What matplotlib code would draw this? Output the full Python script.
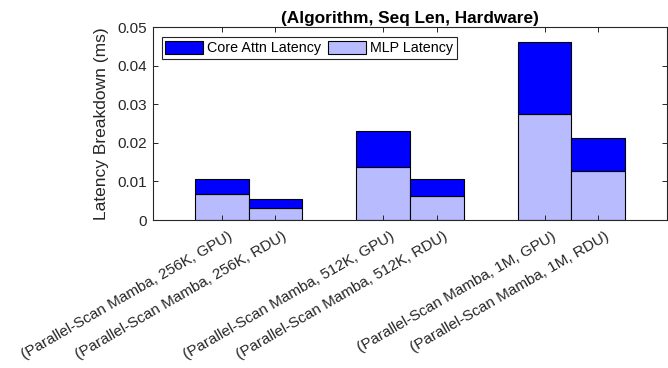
import matplotlib.pyplot as plt
import matplotlib.transforms as mtrans

plt.rcParams['font.family'] = ['Liberation Sans', 'DejaVu Sans']

labels = ['(Parallel-Scan Mamba, 256K, GPU)', '(Parallel-Scan Mamba, 256K, RDU)',
          '(Parallel-Scan Mamba, 512K, GPU)', '(Parallel-Scan Mamba, 512K, RDU)',
          '(Parallel-Scan Mamba, 1M, GPU)', '(Parallel-Scan Mamba, 1M, RDU)']
mlp_latency = [0.0068, 0.0031, 0.0138, 0.0063, 0.0274, 0.0127]
total_latency = [0.0107, 0.0054, 0.0231, 0.0106, 0.0461, 0.0212]
attn_latency = [t - m for t, m in zip(total_latency, mlp_latency)]
yticks = [0, 0.01, 0.02, 0.03, 0.04, 0.05]
ytick_labels = ['0', '0.01', '0.02', '0.03', '0.04', '0.05']

# two bars per sequence length, one empty slot between groups
xpos = [1, 2, 4, 5, 7, 8]

axis_col = '#262626'

fig = plt.figure(figsize=(6.68, 3.68), dpi=100)
ax = fig.add_axes([152.7 / 668, 1 - 220 / 368, 514.6 / 668, 192.7 / 368])

ax.bar(xpos, mlp_latency, width=1.0, color='#b8bcff', edgecolor='black',
       linewidth=0.8, label='MLP Latency')
ax.bar(xpos, attn_latency, bottom=mlp_latency, width=1.0, color='#0000ff',
       edgecolor='black', linewidth=0.8, label='Core Attn Latency')

ax.set_xlim(-0.28, 9.28)
ax.set_ylim(0, 0.05)
ax.set_yticks(yticks)
ax.set_yticklabels(ytick_labels)
ax.set_xticks(xpos)
ax.set_xticklabels(labels, rotation=30, ha='right', va='top', rotation_mode='anchor')
ax.tick_params(labelsize=11, direction='in', top=True, right=True, length=3.6,
               width=0.7, color=axis_col, labelcolor='#262626')
ax.tick_params(axis='y', pad=4.3)
ax.tick_params(axis='x', pad=6.5)
# shift the slanted labels a little to the right of their ticks
shift = mtrans.ScaledTranslation(6.5 / 100, 0, fig.dpi_scale_trans)
for lbl in ax.get_xticklabels():
    lbl.set_transform(lbl.get_transform() + shift)
for s in ax.spines.values():
    s.set_color(axis_col)
    s.set_linewidth(0.8)

ax.set_ylabel('Latency Breakdown (ms)', fontsize=12.5, color='#262626', va='center')
ax.yaxis.set_label_coords((101.7 - 152.7) / 514.6, 0.5)
fig.text(410 / 668, 1 - 23 / 368, '(Algorithm, Seq Len, Hardware)', ha='center',
         va='baseline', fontsize=12.4, fontweight='bold')

handles, names = ax.get_legend_handles_labels()
leg = ax.legend(handles[::-1], names[::-1], loc='upper left', ncol=2, fontsize=10.3,
                frameon=True, fancybox=False, edgecolor=axis_col, framealpha=1,
                handlelength=2.64, handleheight=0.98, columnspacing=0.5,
                handletextpad=0.28, borderpad=0.25, borderaxespad=0,
                bbox_to_anchor=(0.0175, 0.948))
leg.get_frame().set_linewidth(0.8)

fig.savefig('out.png', dpi=100)
